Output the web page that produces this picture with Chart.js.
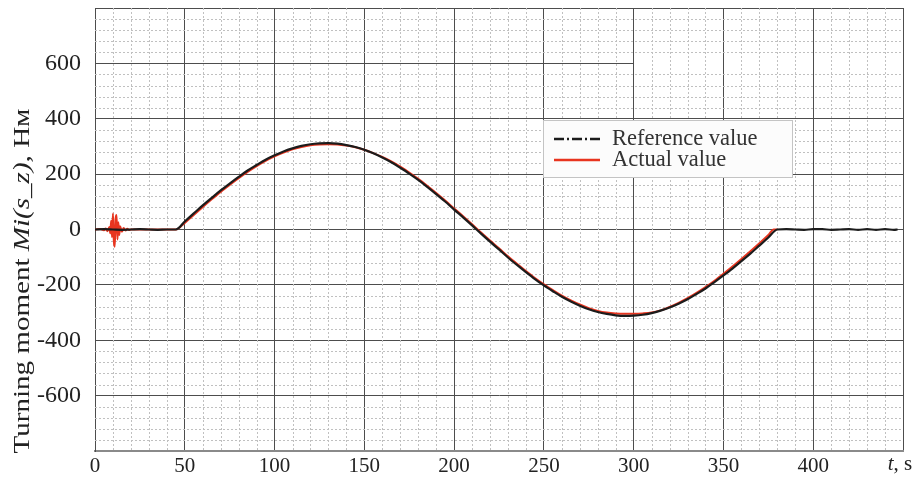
<!DOCTYPE html>
<html>
<head>
<meta charset="utf-8">
<script src="https://cdn.jsdelivr.net/npm/chart.js@4/dist/chart.umd.min.js"></script>
<style>
  html, body { margin: 0; padding: 0; background: #ffffff; }
  #wrap { width: 914px; height: 481px; }
</style>
</head>
<body>
<div id="wrap"><canvas id="c" width="914" height="481"></canvas></div>
<script>
// Reference turning moment, time in seconds
const timeRef = [
  0, 5, 10, 15, 20, 25, 30, 35, 40, 45,
  50, 55, 60, 65, 70, 75, 80, 85, 90, 95,
  100, 105, 110, 115, 120, 125, 130, 135, 140, 145,
  150, 155, 160, 165, 170, 175, 180, 185, 190, 195,
  200, 205, 210, 215, 220, 225, 230, 235, 240, 245,
  250, 255, 260, 265, 270, 275, 280, 285, 290, 295,
  300, 305, 310, 315, 320, 325, 330, 335, 340, 345,
  350, 355, 360, 365, 370, 375, 380,
  385, 390, 395, 400, 405, 410, 415, 420, 425, 430, 435, 440, 445, 447
];
const momentRef = [
  0, 1, 0, -1, 0, 1, 0, -1, 0, 0,
  29, 58, 87, 114, 141, 166, 190, 213, 233, 252,
  268, 282, 293, 302, 308, 311, 312, 310, 305, 298,
  288, 275, 260, 243, 223, 202, 179, 154, 128, 101,
  72, 44, 15, -15, -44, -72, -101, -128, -154, -179,
  -202, -223, -243, -260, -275, -288, -298, -305, -310, -312,
  -311, -308, -302, -293, -282, -268, -252, -233, -213, -190,
  -166, -141, -114, -87, -58, -29, 0,
  1, 0, -1, 1, 1, -1, 0, 1, -1, 1, -1, 1, -1, 0
];

// Actual turning moment
const timeAct = [
  0, 3, 5, 6, 7, 8, 8.5, 9, 9.5, 10, 10.5, 11, 11.5, 12, 12.5, 13, 13.5, 14, 15, 16, 17, 18, 19,
  20, 25, 30, 35, 40, 45,
  50, 55, 60, 65, 70, 75, 80, 85, 90, 95,
  100, 105, 110, 115, 120, 125, 130, 135, 140, 145,
  150, 155, 160, 165, 170, 175, 180, 185, 190, 195,
  200, 205, 210, 215, 220, 225, 230, 235, 240, 245,
  250, 255, 260, 265, 270, 275, 280, 285, 290, 295,
  300, 305, 310, 315, 320, 325, 330, 335, 340, 345,
  350, 355, 360, 365, 370, 375, 378, 380
];
const momentAct = [
  0, 2, -3, 4, -6, 9, -14, 32, -28, 58, -42, -62, 40, 52, -36, 26, -20, 12, -8, 5, -4, 3, -2,
  0, 0, 0, 0, 0, 0,
  24, 52, 81, 109, 136, 161, 185, 208, 229, 248,
  264, 278, 290, 298, 304, 307, 308, 307, 303, 297,
  288, 276, 262, 246, 227, 206, 183, 158, 132, 105,
  76, 48, 19, -11, -40, -68, -97, -124, -150, -175,
  -198, -219, -239, -256, -271, -284, -294, -300, -303, -304,
  -304, -303, -300, -292, -280, -265, -248, -229, -208, -185,
  -160, -134, -107, -79, -50, -20, 0, 0
];

const xTickLabels = [0, 50, 100, 150, 200, 250, 300, 350, 400];
const yTickLabels = [600, 400, 200, 0, -200, -400, -600];
const seriesNames = ['Reference value', 'Actual value'];

const SERIF = '"Liberation Serif", "Times New Roman", serif';
const MAJOR = '#4d4d4d';

// light dashed sub-grid: every 10 s and every 40 Нм
const minorGrid = {
  id: 'minorGrid',
  beforeDatasetsDraw(chart) {
    const { ctx, chartArea: a, scales: { x, y } } = chart;
    ctx.save();
    ctx.strokeStyle = '#c0c0c0';
    ctx.lineWidth = 1;
    ctx.setLineDash([2, 2]);
    ctx.beginPath();
    for (let t = 10; t < 450; t += 10) {
      if (t % 50 === 0) continue;
      const px = Math.round(x.getPixelForValue(t)) + 0.5;
      ctx.moveTo(px, a.top); ctx.lineTo(px, a.bottom);
    }
    for (let v = -760; v < 800; v += 40) {
      if (v % 200 === 0) continue;
      const py = Math.round(y.getPixelForValue(v)) + 0.5;
      ctx.moveTo(a.left, py); ctx.lineTo(a.right, py);
    }
    ctx.stroke();
    ctx.setLineDash([]);
    // the 600 line only runs up to t = 300
    ctx.strokeStyle = MAJOR;
    ctx.beginPath();
    const p6 = Math.round(y.getPixelForValue(600)) + 0.5;
    ctx.moveTo(a.left, p6); ctx.lineTo(x.getPixelForValue(300), p6);
    ctx.stroke();
    ctx.restore();
  }
};

// axis captions with mixed upright / italic text, plus the legend box
const captions = {
  id: 'captions',
  afterDraw(chart) {
    const { ctx, scales: { x } } = chart;
    ctx.save();
    ctx.fillStyle = '#222222';
    ctx.textBaseline = 'alphabetic';

    // x-axis unit at the end of the axis
    const parts = [['t', 'italic'], [', s', 'normal']];
    const fsz = 21;
    let w = 0;
    parts.forEach(p => { ctx.font = p[1] + ' ' + fsz + 'px ' + SERIF; w += ctx.measureText(p[0]).width; });
    let cx = x.getPixelForValue(450) - w / 2 - 3;
    parts.forEach(p => { ctx.font = p[1] + ' ' + fsz + 'px ' + SERIF; ctx.fillText(p[0], cx, 470); cx += ctx.measureText(p[0]).width; });

    // y-axis title, stretched a little along its reading direction
    const yParts = [['Turning moment ', 'normal'], ['Mi(s_z)', 'italic'], [', Нм', 'normal']];
    const ysz = 23;
    let yw = 0;
    yParts.forEach(p => { ctx.font = p[1] + ' ' + ysz + 'px ' + SERIF; yw += ctx.measureText(p[0]).width; });
    const stretch = 345 / yw;
    ctx.translate(29, 281);
    ctx.rotate(-Math.PI / 2);
    ctx.scale(stretch, 1);
    let tx = -yw / 2;
    yParts.forEach(p => { ctx.font = p[1] + ' ' + ysz + 'px ' + SERIF; ctx.fillText(p[0], tx, 0); tx += ctx.measureText(p[0]).width; });
    ctx.restore();

    // legend
    ctx.save();
    const ds = chart.data.datasets;
    const lx = 543, ly = 120, lw = 249, lh = 57;
    ctx.fillStyle = '#fcfcfc';
    ctx.fillRect(lx, ly, lw, lh);
    ctx.strokeStyle = '#c4c4c4';
    ctx.lineWidth = 1;
    ctx.strokeRect(lx + 0.5, ly + 0.5, lw, lh);
    const rows = [ly + 19, ly + 40];
    ds.forEach((d, i) => {
      ctx.strokeStyle = d.borderColor;
      ctx.lineWidth = 2.5;
      ctx.setLineDash(i === 0 ? [10, 3, 2, 3] : []);
      ctx.beginPath();
      ctx.moveTo(lx + 11, rows[i]); ctx.lineTo(lx + 57, rows[i]);
      ctx.stroke();
      ctx.setLineDash([]);
      ctx.fillStyle = '#333333';
      ctx.font = 'normal 22.5px ' + SERIF;
      ctx.textBaseline = 'middle';
      ctx.fillText(d.label, lx + 69, rows[i]);
    });
    ctx.restore();
  }
};

const toPoints = (xs, ys) => xs.map((t, i) => ({ x: t, y: ys[i] }));

new Chart(document.getElementById('c'), {
  type: 'line',
  data: {
    datasets: [
      {
        label: seriesNames[0],
        data: toPoints(timeRef, momentRef),
        borderColor: '#1c1c1c',
        borderWidth: 2.2,
        pointRadius: 0,
        cubicInterpolationMode: 'monotone',
        fill: false
      },
      {
        label: seriesNames[1],
        data: toPoints(timeAct, momentAct),
        borderColor: '#e8351f',
        borderWidth: 2,
        pointRadius: 0,
        cubicInterpolationMode: 'monotone',
        fill: false
      }
    ]
  },
  options: {
    responsive: false,
    animation: false,
    devicePixelRatio: 1,
    layout: { padding: { left: 0, top: 8, right: 11, bottom: 0 } },
    plugins: { legend: { display: false }, tooltip: { enabled: false } },
    scales: {
      x: {
        type: 'linear',
        min: 0, max: 450,
        afterFit(s) { s.height = 30; s.paddingLeft = 0; s.paddingRight = 0; },
        afterBuildTicks(s) { s.ticks = [...xTickLabels, 450].map(v => ({ value: v })); },
        ticks: {
          padding: 3,
          color: '#222222',
          font: { family: SERIF, size: 21 },
          maxRotation: 0,
          callback: v => (xTickLabels.includes(v) ? String(v) : '')
        },
        grid: { color: MAJOR, lineWidth: 1, drawTicks: false },
        border: { color: '#8a8a8a', width: 2 }
      },
      y: {
        type: 'linear',
        min: -800, max: 800,
        afterFit(s) { s.width = 95; s.paddingTop = 0; s.paddingBottom = 0; },
        afterBuildTicks(s) { s.ticks = [-800, ...yTickLabels.slice().reverse(), 800].map(v => ({ value: v })); },
        ticks: {
          padding: 14,
          color: '#222222',
          font: { family: SERIF, size: 24 },
          callback: v => (yTickLabels.includes(v) ? String(v) : '')
        },
        grid: {
          color: c => (c.tick && c.tick.value === 600 ? 'rgba(0,0,0,0)' : MAJOR),
          lineWidth: 1,
          drawTicks: false
        },
        border: { color: MAJOR, width: 1 }
      }
    }
  },
  plugins: [minorGrid, captions]
});
</script>
</body>
</html>
